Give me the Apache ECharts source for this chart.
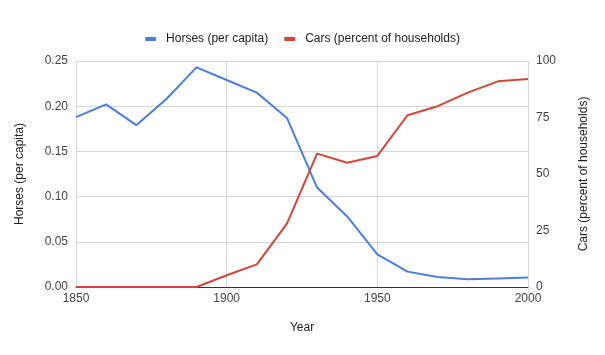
<!DOCTYPE html>
<html><head><meta charset="utf-8">
<script src="https://cdn.jsdelivr.net/npm/echarts@6/dist/echarts.min.js"></script>
<style>html,body{margin:0;padding:0;background:#fff}#c{width:605px;height:355px}</style>
</head><body><div id="c"></div>
<script>
const years = [1850,1860,1870,1880,1890,1900,1910,1920,1930,1940,1950,1960,1970,1980,1990,2000];
const horses = [0.188,0.202,0.179,0.208,0.243,0.229,0.215,0.187,0.110,0.078,0.036,0.017,0.011,0.0085,0.0095,0.0105];
const cars = [0,0,0,0,0,5.2,10,28,59,55,58,76,80,86,91,92];
const leftTicks = [0,0.05,0.10,0.15,0.20,0.25];
const rightTicks = [0,25,50,75,100];

const font = 'Liberation Sans, Arial, sans-serif';
const labelColor = '#444';
const chart = echarts.init(document.getElementById('c'));
chart.setOption({
  animation: false,
  textStyle: {fontFamily: font},
  legend: {
    top: 28, left: 'center', itemWidth: 11, itemHeight: 4, itemGap: 16,
    icon: 'roundRect',
    textStyle: {fontFamily: font, fontSize: 12, color: '#222', padding: [0, 0, 0, 5]},
    data: ['Horses (per capita)', 'Cars (percent of households)']
  },
  grid: {left: 76, right: 77, top: 61, bottom: 68},
  xAxis: {
    type: 'value', min: 1850, max: 2000, interval: 50,
    name: 'Year', nameLocation: 'middle', nameGap: 35,
    nameTextStyle: {fontFamily: font, fontSize: 12, color: '#222'},
    axisLine: {show: true, lineStyle: {color: '#333', width: 1}},
    axisTick: {show: false},
    axisLabel: {color: labelColor, fontSize: 12, margin: 6, formatter: v => String(v)},
    splitLine: {show: true, lineStyle: {color: '#d6d6d6', width: 1}}
  },
  yAxis: [{
    type: 'value', min: 0, max: 0.25, interval: 0.05,
    name: 'Horses (per capita)', nameLocation: 'middle', nameGap: 50, nameRotate: 90,
    nameTextStyle: {fontFamily: font, fontSize: 12, color: '#222'},
    axisLine: {show: false}, axisTick: {show: false},
    axisLabel: {color: labelColor, fontSize: 12, margin: 8, formatter: v => {
      const t = leftTicks.find(x => Math.abs(x - v) < 1e-9);
      return (t !== undefined ? t : v).toFixed(2);
    }},
    splitLine: {show: true, lineStyle: {color: '#d6d6d6', width: 1}}
  }, {
    type: 'value', min: 0, max: 100, interval: 25,
    name: 'Cars (percent of households)', nameLocation: 'middle', nameGap: 50, nameRotate: 90,
    nameTextStyle: {fontFamily: font, fontSize: 12, color: '#222'},
    axisLine: {show: false}, axisTick: {show: false},
    axisLabel: {color: labelColor, fontSize: 12, margin: 8, formatter: v => String(rightTicks.includes(v) ? v : v)},
    splitLine: {show: false}
  }],
  series: [{
    name: 'Horses (per capita)', type: 'line', yAxisIndex: 0,
    data: years.map((y, i) => [y, horses[i]]),
    showSymbol: false, symbol: 'none',
    lineStyle: {color: '#4a7fe0', width: 2}, itemStyle: {color: '#4a7fe0'}
  }, {
    name: 'Cars (percent of households)', type: 'line', yAxisIndex: 1,
    data: years.map((y, i) => [y, cars[i]]),
    showSymbol: false, symbol: 'none',
    lineStyle: {color: '#d2463a', width: 2}, itemStyle: {color: '#d2463a'}
  }]
});
</script></body></html>
